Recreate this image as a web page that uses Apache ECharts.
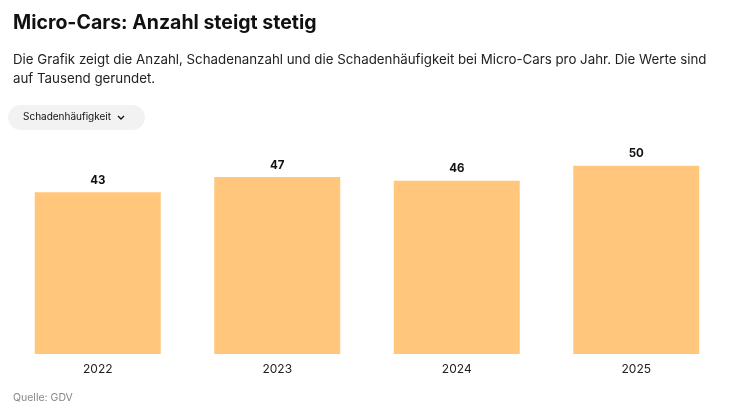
<!DOCTYPE html>
<html style="height: 100%">
<head>
<meta charset="utf-8">
<script src="https://cdn.jsdelivr.net/npm/echarts@6/dist/echarts.min.js"></script>
</head>
<body style="height: 100%; margin: 0; background: #fff">
<div id="container" style="width: 735px; height: 413px"></div>
<script type="text/javascript">
var years = ['2022', '2023', '2024', '2025'];
var schadenhaeufigkeit = [43, 47, 46, 50];

var chart = echarts.init(document.getElementById('container'));
var font = 'Inter, "Noto Sans", sans-serif';

var option = {
    animation: false,
    textStyle: { fontFamily: font },
    title: [{
        text: 'Micro-Cars: Anzahl steigt stetig',
        left: 8, top: 8,
        textStyle: { fontSize: 19.5, fontWeight: 'bold', color: '#111', fontFamily: font }
    }, {
        text: 'Die Grafik zeigt die Anzahl, Schadenanzahl und die Schadenhäufigkeit bei Micro-Cars pro Jahr. Die Werte sind\nauf Tausend gerundet.',
        left: 8, top: 45,
        textStyle: { fontSize: 13.3, fontWeight: 'normal', color: '#222', lineHeight: 19, fontFamily: font }
    }, {
        text: 'Quelle: GDV',
        left: 8, top: 387,
        textStyle: { fontSize: 10.5, fontWeight: 'normal', color: '#888', fontFamily: font }
    }],
    graphic: [{
        type: 'rect',
        shape: { x: 8, y: 105, width: 137, height: 25, r: 12.5 },
        style: { fill: '#f2f2f2' }
    }, {
        type: 'text',
        x: 23, y: 112,
        style: { text: 'Schadenhäufigkeit', fontSize: 10, fill: '#111', fontFamily: font }
    }, {
        type: 'polyline',
        shape: { points: [[118, 116], [121, 119], [124, 116]] },
        style: { stroke: '#111', lineWidth: 1.3, fill: null }
    }],
    grid: { left: 8, right: 9, top: 147, bottom: 59 },
    xAxis: {
        type: 'category',
        data: years,
        axisLine: { show: false },
        axisTick: { show: false },
        axisLabel: { color: '#222', fontSize: 12, margin: 9, fontFamily: font }
    },
    yAxis: {
        type: 'value',
        min: 0, max: 55,
        show: false,
        splitLine: { show: false }
    },
    series: [{
        type: 'bar',
        data: schadenhaeufigkeit,
        barWidth: 126,
        itemStyle: { color: '#FFC67C' },
        label: {
            show: true, position: 'top', distance: 6,
            color: '#111', fontSize: 11.5, fontWeight: 'bold', fontFamily: font
        }
    }]
};

chart.setOption(option);
</script>
</body>
</html>
